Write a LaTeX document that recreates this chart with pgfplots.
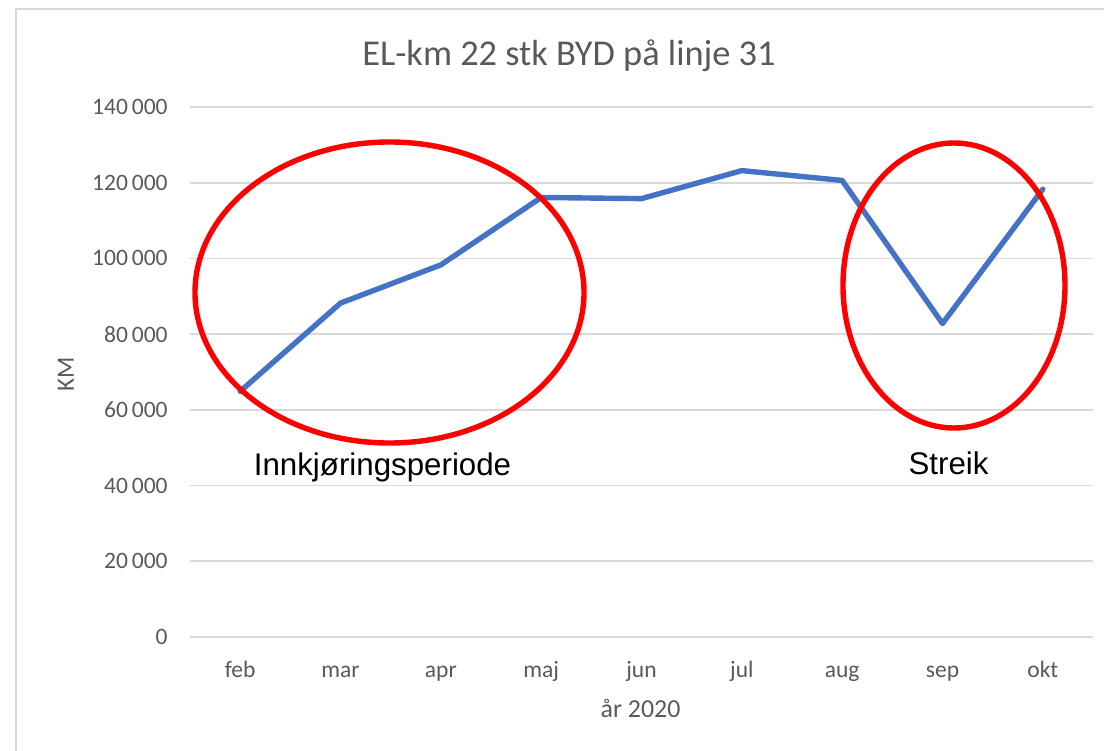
\documentclass[border=0pt]{standalone}
\usepackage{pgfplots}
\pgfplotsset{compat=1.18}
\usepackage{fontspec}
\setmainfont{Carlito}
\newfontfamily\arialfont{Liberation Sans}
\definecolor{gridgray}{HTML}{D9D9D9}
\definecolor{txtgray}{HTML}{595959}
\definecolor{lineblue}{HTML}{4472C4}
\definecolor{circred}{HTML}{FF0000}
\begin{document}
\begin{tikzpicture}
\begin{axis}[
  at={(95bp,-318.5bp)}, anchor=south west,
  scale only axis, width=451.5bp, height=265bp,
  xmin=-0.5, xmax=8.5, ymin=0, ymax=140000,
  xtick={0,1,2,3,4,5,6,7,8},
  xticklabels={feb,mar,apr,maj,jun,jul,aug,sep,okt},
  ytick={0,20000,40000,60000,80000,100000,120000,140000},
  yticklabels={0,20\,000,40\,000,60\,000,80\,000,100\,000,120\,000,140\,000},
  scaled y ticks=false,
  major tick length=0pt,
  axis line style={draw=none},
  ymajorgrids, grid style={gridgray, line width=0.85bp},
  tick label style={font=\fontsize{11.8}{13}\selectfont, text=txtgray},
  yticklabel style={anchor=east, inner sep=0pt, xshift=-11bp},
  xticklabel style={anchor=base, inner sep=0pt, yshift=-20bp},
  clip=false,
]
\addplot[lineblue, line width=2.7bp, line join=round, line cap=round] coordinates {
  (0,64900) (1,88200) (2,98300) (3,116100) (4,115800)
  (5,123200) (6,120600) (7,82800) (8,118300)
};
\end{axis}
\begin{scope}[x=0.5bp,y=-0.5bp]
\path[use as bounding box] (0,0) rectangle (1104,751);
% chart frame (cropped at right and bottom)
\draw[gridgray, line width=1bp] (16,751) -- (16,8.5) -- (1104,8.5);
% titles
\node[anchor=base, text=txtgray, font=\fontsize{18.25}{20}\selectfont, inner sep=0pt] at (569,65) {EL-km 22 stk BYD på linje 31};
\node[anchor=base, text=txtgray, font=\fontsize{13}{15}\selectfont, inner sep=0pt] at (640.5,717) {år 2020};
\node[rotate=90, text=txtgray, font=\fontsize{12.5}{14}\selectfont, inner sep=0pt] at (66,374.5) {KM};
% annotations
\draw[circred, line width=2.7bp] (389.5,292.5) ellipse [x radius=97.25bp, y radius=75.25bp];
\draw[circred, line width=2.7bp] (954,285.5) ellipse [x radius=55.5bp, y radius=71.25bp];
\node[anchor=base, inner sep=0pt, font=\arialfont\fontsize{15.7}{18}\selectfont] at (382.5,475) {Innkjøringsperiode};
\node[anchor=base, inner sep=0pt, font=\arialfont\fontsize{15.7}{18}\selectfont] at (948.5,474) {Streik};
\end{scope}
\end{tikzpicture}
\end{document}
